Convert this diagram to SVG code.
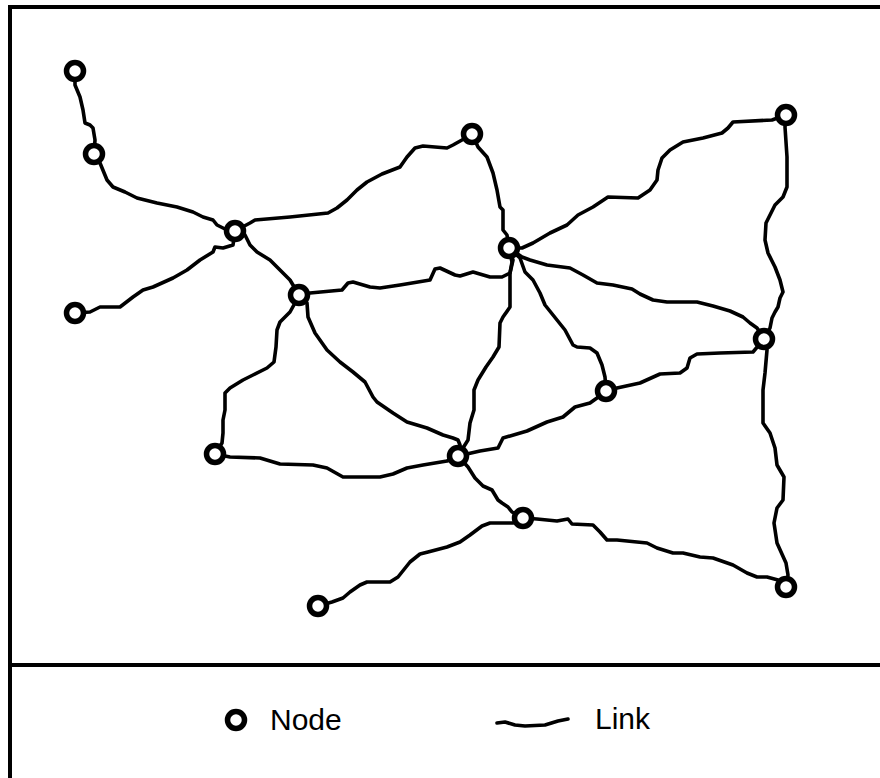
<svg xmlns="http://www.w3.org/2000/svg" width="880" height="778" viewBox="0 0 880 778">
<style>
.frame{fill:none;stroke:#000;stroke-width:4}
.link{fill:none;stroke:#000;stroke-width:3.6;stroke-linejoin:round;stroke-linecap:round}
.node{fill:#fff;stroke:#000;stroke-width:5.5}
.lbl{font-family:"Liberation Sans",Arial,sans-serif;font-size:30px;fill:#000}
</style>
<rect width="880" height="778" fill="#fff"/>
<rect class="frame" x="10" y="7" width="880" height="790"/>
<line class="frame" x1="10" y1="665" x2="880" y2="665"/>
<g id="links">
<path class="link" d="M75,71 L75,85 L80,97 L83,110 L85,123 L90,125 L93,128 L95,140 L94,154"/>
<path class="link" d="M94,154 L100,163 L107,180 L113,187 L125,192 L137,198 L157,203 L177,207 L193,212 L203,217 L213,220 L217,225 L227,230 L235,231"/>
<path class="link" d="M235,231 L233,245 L223,248 L215,247 L213,252 L200,260 L187,270 L173,278 L153,287 L143,290 L133,297 L120,307 L100,307 L90,312 L75,313"/>
<path class="link" d="M235,231 L250,223 L255,220 L290,217 L328,213 L337,208 L347,200 L357,190 L367,182 L382,174 L400,167 L407,157 L415,148 L423,146 L447,148 L453,145 L462,140 L472,134"/>
<path class="link" d="M472,134 L478,147 L487,157 L493,173 L497,190 L500,207 L503,210 L503,230 L507,235 L509,248"/>
<path class="link" d="M509,248 L522,248 L533,243 L550,233 L567,225 L578,215 L593,207 L608,197 L638,198 L650,190 L657,180 L658,170 L662,158 L670,150 L683,142 L703,138 L722,133 L728,128 L733,122 L772,120 L786,115"/>
<path class="link" d="M786,115 L785,127 L787,157 L787,187 L783,197 L775,205 L770,215 L766,223 L765,240 L768,253 L775,267 L780,280 L783,292 L780,298 L778,307 L775,312 L772,318 L770,328 L764,339"/>
<path class="link" d="M509,248 L522,257 L530,260 L547,265 L570,268 L583,275 L597,283 L613,285 L632,289 L640,294 L653,300 L667,302 L697,302 L713,306 L730,311 L743,317 L750,323 L757,328 L764,339"/>
<path class="link" d="M509,248 L520,258 L525,272 L533,280 L540,293 L545,305 L553,315 L565,330 L573,345 L577,347 L590,348 L597,353 L602,365 L605,377 L606,391"/>
<path class="link" d="M509,248 L512,262 L510,273 L510,307 L503,317 L500,323 L499,347 L493,357 L486,367 L478,380 L474,390 L474,410 L470,423 L468,440 L458,456"/>
<path class="link" d="M509,248 L513,260 L510,273 L502,277 L490,277 L473,272 L460,276 L455,275 L440,268 L435,269 L430,280 L400,285 L380,288 L370,287 L353,282 L348,283 L342,290 L310,293 L299,295"/>
<path class="link" d="M235,231 L245,235 L250,245 L257,252 L270,260 L283,273 L290,280 L299,295"/>
<path class="link" d="M299,295 L295,303 L290,312 L280,322 L277,330 L276,347 L274,362 L267,368 L253,375 L243,380 L230,388 L225,393 L225,410 L223,420 L223,433 L222,443 L215,454"/>
<path class="link" d="M299,295 L307,303 L308,317 L315,333 L327,350 L340,362 L353,372 L365,382 L373,397 L377,402 L393,413 L407,422 L427,428 L443,435 L453,438 L458,440 L460,445 L458,456"/>
<path class="link" d="M215,454 L230,457 L260,458 L280,464 L313,465 L327,468 L343,477 L380,477 L393,474 L407,468 L423,465 L447,461 L458,456"/>
<path class="link" d="M458,456 L480,451 L498,448 L503,438 L527,431 L547,422 L563,417 L575,407 L590,403 L597,398 L606,391"/>
<path class="link" d="M606,391 L617,388 L640,383 L660,374 L680,373 L687,368 L690,358 L697,354 L720,353 L753,352 L764,339"/>
<path class="link" d="M764,339 L767,350 L765,373 L763,390 L763,423 L770,433 L775,448 L777,465 L784,477 L783,500 L777,508 L774,523 L777,543 L786,563 L788,575 L786,587"/>
<path class="link" d="M458,456 L468,467 L475,478 L483,486 L492,490 L498,500 L502,503 L508,507 L512,512 L523,518"/>
<path class="link" d="M523,518 L513,523 L490,523 L482,526 L470,535 L460,542 L447,547 L428,552 L420,554 L410,562 L402,572 L398,577 L390,582 L367,582 L360,585 L350,592 L343,598 L332,602 L318,606"/>
<path class="link" d="M523,518 L537,519 L557,521 L568,519 L572,524 L593,525 L600,532 L607,540 L617,540 L647,543 L657,548 L673,553 L683,553 L700,557 L713,558 L733,565 L747,573 L757,577 L767,577 L778,580 L786,587"/>
</g>
<g id="n1"><circle class="node" cx="75" cy="71" r="8.5"/></g>
<g id="n2"><circle class="node" cx="94" cy="154" r="8.5"/></g>
<g id="n3"><circle class="node" cx="235" cy="231" r="8.5"/></g>
<g id="n4"><circle class="node" cx="75" cy="313" r="8.5"/></g>
<g id="n5"><circle class="node" cx="472" cy="134" r="8.5"/></g>
<g id="n6"><circle class="node" cx="509" cy="248" r="8.5"/></g>
<g id="n7"><circle class="node" cx="786" cy="115" r="8.5"/></g>
<g id="n8"><circle class="node" cx="299" cy="295" r="8.5"/></g>
<g id="n9"><circle class="node" cx="764" cy="339" r="8.5"/></g>
<g id="n10"><circle class="node" cx="606" cy="391" r="8.5"/></g>
<g id="n11"><circle class="node" cx="215" cy="454" r="8.5"/></g>
<g id="n12"><circle class="node" cx="458" cy="456" r="8.5"/></g>
<g id="n13"><circle class="node" cx="523" cy="518" r="8.5"/></g>
<g id="n14"><circle class="node" cx="318" cy="606" r="8.5"/></g>
<g id="n15"><circle class="node" cx="786" cy="587" r="8.5"/></g>
<g id="legend">
<circle class="node" cx="236" cy="720" r="8.5"/>
<text class="lbl" x="270" y="730">Node</text>
<path class="link" d="M497,723 L505,722 L515,725 L525,726 L545,725 L558,721 L568,719"/>
<text class="lbl" x="595" y="729">Link</text>
</g>
</svg>
